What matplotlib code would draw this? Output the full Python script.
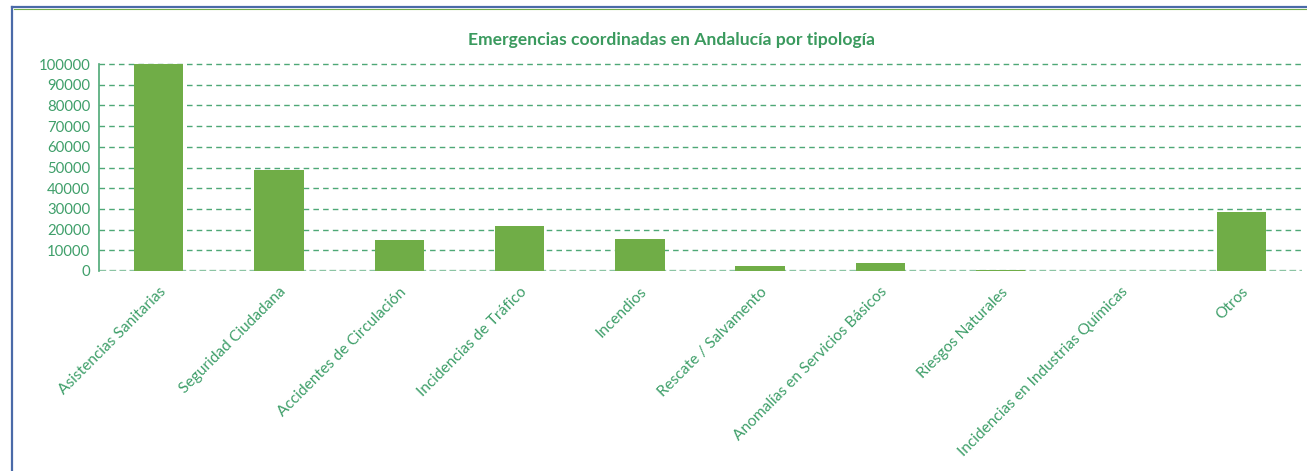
import matplotlib
matplotlib.use("Agg")
import matplotlib.pyplot as plt
from matplotlib.lines import Line2D

categories = ["Asistencias Sanitarias", "Seguridad Ciudadana", "Accidentes de Circulación",
              "Incidencias de Tráfico", "Incendios", "Rescate / Salvamento",
              "Anomalías en Servicios Básicos", "Riesgos Naturales",
              "Incidencias en Industrias Químicas", "Otros"]
values = [100400, 49000, 15200, 21900, 15600, 2500, 3800, 600, 100, 28600]
yticks = [0, 10000, 20000, 30000, 40000, 50000, 60000, 70000, 80000, 90000, 100000]

title = "Emergencias coordinadas en Andalucía por tipología"
txt_color = "#3f9f6a"
bar_color = "#70ad47"
grid_color = "#4ea876"

plt.rcParams['font.family'] = ['Lato', 'DejaVu Sans']

fig = plt.figure(figsize=(13.07, 4.71), dpi=100)
ax = fig.add_axes([98.5/1307, 1-271/471, 1203/1307, 207/471])

x = list(range(len(categories)))
ax.bar(x, values, width=0.41, color=bar_color, zorder=3)
ax.set_xlim(-0.5, len(categories)-0.5)
ax.set_ylim(0, 100000)
ax.set_yticks(yticks)
ax.set_yticklabels([str(v) for v in yticks], color=txt_color, fontsize=10.7)
ax.set_xticks(x)
ax.set_xticklabels(categories, rotation=45, ha='right', rotation_mode='anchor',
                   color=txt_color, fontsize=11.2)
ax.tick_params(axis='both', length=0, pad=6)
ax.tick_params(axis='x', pad=10)

for v in yticks[1:]:
    ax.axhline(v, color=grid_color, lw=1.0, ls=(0, (4, 3)), zorder=1, clip_on=False)
ax.axhline(0, color="#8cc4a4", lw=2.4, ls=(0, (2, 1)), zorder=2)

for s in ['top', 'right', 'bottom']:
    ax.spines[s].set_visible(False)
ax.spines['left'].set_color(grid_color)
ax.spines['left'].set_linewidth(1.2)

fig.text(672/1307, 1-40/471, title, ha='center', va='center',
         color="#3a9a5e", fontsize=12.6, fontweight='bold')

# outer border lines
fig.add_artist(Line2D([12.5/1307, 12.5/1307], [0, 1-7/471], color="#4a6aa8", lw=1.6,
                      transform=fig.transFigure))
fig.add_artist(Line2D([12.5/1307, 1], [1-7/471, 1-7/471], color="#4a6aa8", lw=1.6,
                      transform=fig.transFigure))
fig.add_artist(Line2D([14/1307, 1], [1-8.5/471, 1-8.5/471], color="#70ad47", lw=0.8,
                      transform=fig.transFigure))

fig.savefig("out.png", dpi=100)
